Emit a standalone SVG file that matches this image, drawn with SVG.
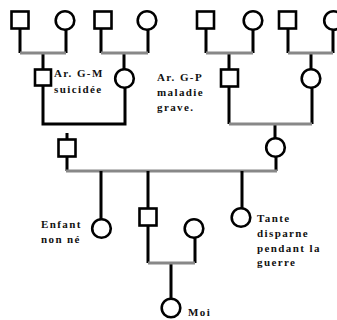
<svg xmlns="http://www.w3.org/2000/svg" width="337" height="320" viewBox="0 0 337 320">
<style>
.n{fill:#fff;stroke:#000;stroke-width:2.6}
.v{stroke:#000;stroke-width:3;fill:none}
.h{stroke:#888;stroke-width:3;fill:none}
.t{font-family:"Liberation Serif","DejaVu Serif",serif;font-weight:bold;font-size:11px;letter-spacing:1.4px;fill:#111}
</style>
<rect width="337" height="320" fill="#fff"/>
<g id="connectors">
<path class="v" d="M20 29V53M66 30V53M43 53V69"/>
<path class="h" d="M20 53H66"/>
<path class="v" d="M101 29V53M148 30V53M124 53V69"/>
<path class="h" d="M101 53H148"/>
<path class="v" d="M206 29V53M253 30V53M229 53V69"/>
<path class="h" d="M206 53H253"/>
<path class="v" d="M288 29V53M333 30V53M311 53V69"/>
<path class="h" d="M288 53H333"/>
<path class="v" d="M43 86V124H125V88"/>
<path class="v" d="M67 133V139M67 156V171"/>
<path class="v" d="M229 86V124M312 88V124M275 124V138M276 157V171"/>
<path class="h" d="M229 124H312"/>
<path class="h" d="M66 171H277"/>
<path class="v" d="M101 171V219M148 171V209M242 171V208"/>
<path class="v" d="M148 226V263M195 238V263M171 263V299"/>
<path class="h" d="M148 263H195"/>
</g>
<g id="n1"><rect class="n" x="11.5" y="11.5" width="17" height="17"/></g>
<g id="n2"><circle class="n" cx="65" cy="20.5" r="9.3"/></g>
<g id="n3"><rect class="n" x="94.5" y="11.5" width="17" height="17"/></g>
<g id="n4"><circle class="n" cx="147" cy="20.5" r="9.3"/></g>
<g id="n5"><rect class="n" x="197" y="11.5" width="17" height="17"/></g>
<g id="n6"><circle class="n" cx="253" cy="20.5" r="9.3"/></g>
<g id="n7"><rect class="n" x="279" y="11.5" width="17" height="17"/></g>
<g id="n8"><circle class="n" cx="333.5" cy="20.5" r="9.3"/></g>
<g id="n9"><rect class="n" x="35" y="69.5" width="16" height="16"/><text class="t" x="54" y="77">Ar. G-M</text><text class="t" x="54" y="93">suicidée</text></g>
<g id="n10"><circle class="n" cx="124.5" cy="78.5" r="9.3"/></g>
<g id="n11"><rect class="n" x="221" y="69.5" width="17" height="17"/><text class="t" x="157" y="81">Ar. G-P</text><text class="t" x="157" y="96">maladie</text><text class="t" x="157" y="111">grave.</text></g>
<g id="n12"><circle class="n" cx="311" cy="78.5" r="9.3"/></g>
<g id="n13"><rect class="n" x="58.5" y="139.5" width="17" height="17"/></g>
<g id="n14"><circle class="n" cx="275.5" cy="147.5" r="9.3"/></g>
<g id="n15"><circle class="n" cx="101.5" cy="228.5" r="9.3"/><text class="t" x="41" y="228">Enfant</text><text class="t" x="41" y="243">non né</text></g>
<g id="n16"><rect class="n" x="139.5" y="208.5" width="17" height="17"/></g>
<g id="n17"><circle class="n" cx="241" cy="217.5" r="9.3"/><text class="t" x="257" y="222">Tante</text><text class="t" x="257" y="237">disparne</text><text class="t" x="257" y="252">pendant la</text><text class="t" x="257" y="266">guerre</text></g>
<g id="n18"><circle class="n" cx="194" cy="228.5" r="9.3"/></g>
<g id="n19"><circle class="n" cx="171" cy="308" r="9.3"/><text class="t" x="188" y="316">Moi</text></g>
</svg>
